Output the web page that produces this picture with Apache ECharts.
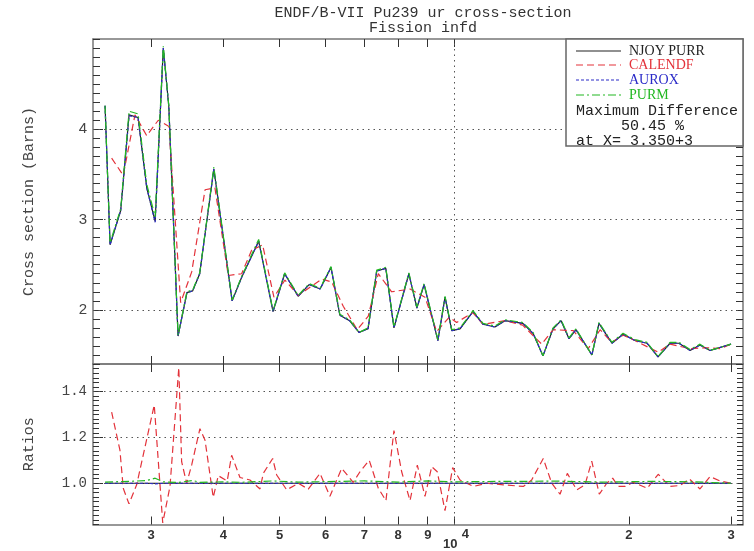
<!DOCTYPE html>
<html><head><meta charset="utf-8">
<script src="https://cdn.jsdelivr.net/npm/echarts@6/dist/echarts.min.js"></script>
<style>html,body{margin:0;padding:0;background:#fff}#c{width:754px;height:551px}</style>
</head><body><div id="c"></div>
<script>
// ---------- DATA ----------
const titleText = 'ENDF/B-VII Pu239 ur cross-section\nFission infd';
const xTickValues = [3000, 4000, 5000, 6000, 7000, 8000, 9000, 10000, 20000, 30000];
const xTickLabels = ['3', '4', '5', '6', '7', '8', '9', '10', '2', '3'];
const xTickSups   = ['', '', '', '', '', '', '', '4', '', ''];
const csTicks = [2, 3, 4];
const ratioTicks = [1.0, 1.2, 1.4];
const seriesNames = ['NJOY PURR', 'CALENDF', 'AUROX', 'PURM'];
const maxDiffLines = ['Maximum Difference', '     50.45 %', 'at X= 3.350+3'];

const njoyE = [2500, 2550, 2660, 2750, 2850, 2950, 3050, 3150, 3220, 3340, 3460, 3540, 3640, 3850, 4140, 4300, 4600, 4870, 5100, 5380,
  5620, 5870, 6130, 6350, 6600, 6850, 7100, 7350, 7620, 7870, 8350, 8620, 8870, 9370, 9640, 9900, 10230, 10770, 11210, 11750,
  12230, 13130, 13670, 14220, 14800, 15280, 15770, 16210, 17270, 17760, 18700, 19540, 20490, 21490, 22450, 23550, 24400, 25500, 26520, 27600, 30000];
const purmV = [4.26, 2.74, 3.12, 4.20, 4.17, 3.39, 3.03, 4.92, 4.26, 1.72, 2.20, 2.22, 2.41, 3.58, 2.11, 2.37, 2.78, 1.99, 2.41, 2.16,
  2.29, 2.24, 2.48, 1.95, 1.89, 1.75, 1.80, 2.44, 2.47, 1.81, 2.41, 2.03, 2.29, 1.67, 2.15, 1.78, 1.80, 1.99, 1.85, 1.82,
  1.89, 1.86, 1.75, 1.49, 1.80, 1.89, 1.69, 1.79, 1.50, 1.86, 1.64, 1.74, 1.67, 1.64, 1.48, 1.64, 1.64, 1.56, 1.62, 1.55, 1.62];
const njoyV = [4.26, 2.72, 3.10, 4.16, 4.13, 3.35, 2.98, 4.90, 4.25, 1.71, 2.19, 2.21, 2.40, 3.56, 2.10, 2.36, 2.76, 1.98, 2.40, 2.15,
  2.28, 2.23, 2.47, 1.94, 1.88, 1.75, 1.79, 2.43, 2.46, 1.80, 2.40, 2.02, 2.28, 1.66, 2.14, 1.77, 1.79, 1.98, 1.84, 1.81,
  1.88, 1.85, 1.74, 1.49, 1.79, 1.88, 1.68, 1.78, 1.50, 1.85, 1.63, 1.73, 1.66, 1.63, 1.48, 1.63, 1.63, 1.55, 1.61, 1.55, 1.62];
const auroxV = [4.26, 2.72, 3.10, 4.15, 4.13, 3.35, 2.97, 4.90, 4.25, 1.71, 2.19, 2.21, 2.40, 3.56, 2.10, 2.36, 2.76, 1.98, 2.40, 2.15,
  2.28, 2.23, 2.47, 1.94, 1.88, 1.75, 1.79, 2.43, 2.46, 1.80, 2.40, 2.02, 2.28, 1.66, 2.14, 1.77, 1.79, 1.98, 1.84, 1.81,
  1.88, 1.85, 1.74, 1.49, 1.79, 1.88, 1.68, 1.78, 1.50, 1.85, 1.63, 1.73, 1.66, 1.63, 1.48, 1.63, 1.63, 1.55, 1.61, 1.55, 1.62];

const calendfE = [2566, 2687, 2815, 2949, 3088, 3222, 3375, 3526, 3718, 3867, 4077, 4299, 4473, 4673, 4887, 5106, 5383, 5908, 6145, 6435,
  6803, 7108, 7396, 7798, 8389, 8902, 9326, 9804, 10096, 10760, 11220, 12230, 13120, 14150, 14810, 16040, 17020, 17840, 18680, 19560,
  20490, 22470, 23550, 25500, 27240, 28710, 30000];
const calendfV = [3.68, 3.49, 4.16, 3.93, 4.10, 4.03, 2.08, 2.42, 3.33, 3.35, 2.38, 2.40, 2.66, 2.72, 2.14, 2.33, 2.16, 2.34, 2.31, 2.04,
  1.78, 1.93, 2.40, 2.20, 2.23, 2.14, 1.76, 1.92, 1.86, 1.97, 1.84, 1.88, 1.83, 1.62, 1.78, 1.77, 1.57, 1.78, 1.64, 1.72,
  1.66, 1.53, 1.62, 1.57, 1.58, 1.57, 1.62];

const calRatioE = [2566, 2652, 2687, 2749, 2834, 3039, 3143, 3235, 3350, 3388, 3456, 3526, 3643, 3718, 3841, 3918, 4060, 4132, 4271, 4444,
  4624, 4685, 4863, 4941, 5141, 5383, 5601, 5868, 6104, 6395, 6696, 6877, 7135, 7396, 7624, 7870, 8115, 8389, 8635, 8902,
  9143, 9347, 9638, 9937, 10229, 10784, 11372, 12148, 13152, 13595, 14236, 14723, 15216, 15664, 16256, 16803, 17258, 17783, 18315, 18754,
  19177, 19695, 20355, 21511, 22470, 23550, 24498, 25420, 26521, 27600, 28710, 30000];
const calRatioV = [1.31, 1.144, 0.978, 0.91, 0.993, 1.341, 0.827, 0.986, 1.504, 1.094, 1.0, 1.08, 1.238, 1.187, 0.938, 1.033, 1.01, 1.122, 1.025, 1.014,
  0.975, 1.043, 1.108, 1.036, 0.971, 1.0, 0.974, 1.043, 0.943, 1.065, 1.004, 1.05, 1.10, 0.978, 0.924, 1.23, 1.05, 0.924, 1.079, 0.943,
  1.072, 1.05, 0.88, 1.068, 1.014, 0.986, 1.0, 0.993, 0.986, 1.014, 1.108, 1.0, 0.952, 1.043, 0.971, 0.993, 1.096, 0.952, 1.0, 1.022,
  0.986, 0.986, 1.004, 0.978, 1.039, 0.986, 0.99, 1.019, 0.975, 1.029, 1.01, 1.0];
const njoyRatioE = [2500, 30000];
const njoyRatioV = [1.0, 1.0];
const auroxRatioE = [2500, 2950, 3050, 3150, 30000];
const auroxRatioV = [1.0, 1.0, 0.997, 1.0, 1.0];
const purmRatioE = [2500, 2750, 2950, 3050, 3150, 3340, 3540, 3640, 4000, 4300, 4870, 5380, 6000, 7000, 8000, 9000, 10000, 12000, 15000, 18000, 22000, 26000, 30000];
const purmRatioV = [1.005, 1.008, 1.012, 1.022, 1.006, 1.003, 1.012, 1.004, 1.006, 1.004, 1.01, 1.005, 1.007, 1.01, 1.005, 1.01, 1.006, 1.008, 1.009, 1.005, 1.008, 1.006, 1.0];

// ---------- LAYOUT / STYLE ----------
const X_MIN = 2383, X_MAX = 31460;
const CS_MIN = 1.4, CS_MAX = 5.0, CS_MINOR = 0.1;
const R_MIN = 0.82, R_MAX = 1.52, R_MINOR = 0.02;
const MONO = "'Liberation Mono', 'DejaVu Sans Mono', monospace";
const SANS = "'Liberation Sans', Arial, sans-serif";
const FRAME = { show: true, lineStyle: { color: '#777', width: 1.5 } };
const TICK = '#333';
const COLORS = ['#222222', '#e3323a', '#2a2ac8', '#22b822'];
const DASHES = ['solid', [7, 4], [3, 2], [8, 3, 2, 3]];

function pairs(e, v) { return e.map((x, i) => [x, v[i]]); }
function minorValues(min, max, step) {
  const out = []; const n = Math.round((max - min) / step);
  for (let k = 0; k <= n; k++) out.push(+(min + k * step).toFixed(4));
  return out;
}

const lxMin = Math.log10(X_MIN), lxMax = Math.log10(X_MAX);
const lxTicks = xTickValues.map(v => Math.log10(v));

function xLabelFmt(v) {
  let i = 0, best = 1e9;
  lxTicks.forEach((t, k) => { const d = Math.abs(t - v); if (d < best) { best = d; i = k; } });
  if (xTickSups[i]) return '{e|' + xTickSups[i] + '}\n{b|' + xTickLabels[i] + '}';
  return '{n|' + xTickLabels[i] + '}';
}
const xLabelFont = { fontFamily: SANS, fontWeight: 'bold', fontSize: 13, color: '#333' };

function overlayX(grid, pos, labels) {
  return {
    type: 'value', gridIndex: grid, position: pos, min: lxMin, max: lxMax,
    axisLine: Object.assign({ onZero: false }, FRAME),
    axisTick: { show: true, inside: true, length: 8, customValues: lxTicks, lineStyle: { color: TICK, width: 1 } },
    axisLabel: labels ? {
      show: true, customValues: lxTicks, formatter: xLabelFmt, margin: 4,
      rich: {
        n: Object.assign({ lineHeight: 13 }, xLabelFont),
        e: Object.assign({ lineHeight: 12, padding: [0, 0, 0, 22] }, xLabelFont),
        b: Object.assign({ lineHeight: 8, padding: [0, 8, 0, 0] }, xLabelFont)
      }
    } : { show: false },
    splitLine: { show: false }
  };
}
function dataX(grid) {
  return { type: 'log', logBase: 10, gridIndex: grid, min: X_MIN, max: X_MAX, show: false, splitLine: { show: false } };
}
function minorY(grid, pos, min, max, step, len) {
  const vals = minorValues(min, max, step);
  return {
    type: 'value', gridIndex: grid, position: pos, min: min, max: max,
    axisLine: Object.assign({ onZero: false }, FRAME),
    axisTick: { show: true, inside: true, length: len, customValues: vals, lineStyle: { color: TICK, width: 1 } },
    axisLabel: { show: false },
    splitLine: { show: false }
  };
}
function majorY(grid, min, max, ticks, name, fmt, labelFont, labelSize) {
  return {
    type: 'value', gridIndex: grid, position: 'left', min: min, max: max,
    axisLine: { show: false, onZero: false },
    axisTick: { show: true, inside: true, length: 10, customValues: ticks, lineStyle: { color: TICK, width: 1 } },
    axisLabel: { show: true, customValues: ticks, formatter: fmt, margin: 6, fontFamily: labelFont, fontSize: labelSize, color: '#444' },
    splitLine: { show: false },
    name: name, nameLocation: 'middle', nameGap: 56, nameRotate: 90,
    nameTextStyle: { fontFamily: MONO, fontSize: 15, color: '#444' }
  };
}
function gridLines(vals) {
  return {
    silent: true, symbol: ['none', 'none'], z: 1, animation: false,
    label: { show: false },
    lineStyle: { color: '#555', width: 1, type: [1.5, 4] },
    emphasis: { disabled: true },
    data: vals.map(v => ({ yAxis: v })).concat([{ xAxis: 10000 }])
  };
}
function mkSeries(name, data, idx, xi, yi, ml) {
  const s = {
    name: name, type: 'line', xAxisIndex: xi, yAxisIndex: yi, data: data,
    symbol: 'none', showSymbol: false, animation: false, z: 2 + idx,
    lineStyle: { color: COLORS[idx], width: 1.2, type: DASHES[idx] },
    emphasis: { disabled: true }
  };
  if (ml) s.markLine = ml;
  return s;
}

const chart = echarts.init(document.getElementById('c'), null, { renderer: 'canvas' });

const LX = 576, LT = 629;
const legendGraphics = [
  { type: 'rect', shape: { x: 566, y: 39, width: 177, height: 107 }, style: { fill: '#fff', stroke: '#666', lineWidth: 1.5 }, z: 100 }
];
const legendY = [51, 65, 80, 95];
seriesNames.forEach((n, i) => {
  legendGraphics.push({ type: 'line', shape: { x1: LX, y1: legendY[i], x2: LX + 45, y2: legendY[i] },
    style: { stroke: COLORS[i], lineWidth: 1.2, lineDash: DASHES[i] === 'solid' ? null : DASHES[i] }, z: 101 });
  legendGraphics.push({ type: 'text', x: LT, y: legendY[i], z: 101,
    style: { text: n, fill: COLORS[i], font: "14px 'Liberation Serif', 'DejaVu Serif', serif", verticalAlign: 'middle' } });
});
const mdY = [111, 126, 141];
maxDiffLines.forEach((t, i) => {
  legendGraphics.push({ type: 'text', x: 576, y: mdY[i], z: 101,
    style: { text: t, fill: '#222', font: "15px " + MONO, verticalAlign: 'middle' } });
});

chart.setOption({
  animation: false,
  backgroundColor: '#fff',
  title: {
    text: titleText, left: 418, top: 1, textAlign: 'center',
    textStyle: { fontFamily: MONO, fontSize: 15, fontWeight: 'normal', color: '#333', lineHeight: 15 }
  },
  grid: [
    { left: 93, right: 11, top: 39, height: 325, containLabel: false },
    { left: 93, right: 11, top: 364, height: 164, containLabel: false }
  ],
  xAxis: [
    dataX(0), overlayX(0, 'bottom', false), overlayX(0, 'top', false),
    dataX(1), overlayX(1, 'top', false), overlayX(1, 'bottom', true)
  ],
  yAxis: [
    { type: 'value', gridIndex: 0, min: CS_MIN, max: CS_MAX, show: false },
    majorY(0, CS_MIN, CS_MAX, csTicks, 'Cross section (Barns)', v => String(Math.round(v)), SANS, 15),
    minorY(0, 'left', CS_MIN, CS_MAX, CS_MINOR, 7),
    minorY(0, 'right', CS_MIN, CS_MAX, CS_MINOR, 7),
    { type: 'value', gridIndex: 1, min: R_MIN, max: R_MAX, show: false },
    majorY(1, R_MIN, R_MAX, ratioTicks, 'Ratios', v => Number(v).toFixed(1), MONO, 14),
    minorY(1, 'left', R_MIN, R_MAX, R_MINOR, 6),
    minorY(1, 'right', R_MIN, R_MAX, R_MINOR, 6)
  ],
  series: [
    mkSeries('NJOY PURR', pairs(njoyE, njoyV), 0, 0, 0, gridLines(csTicks)),
    mkSeries('CALENDF', pairs(calendfE, calendfV), 1, 0, 0),
    mkSeries('AUROX', pairs(njoyE, auroxV), 2, 0, 0),
    mkSeries('PURM', pairs(njoyE, purmV), 3, 0, 0),
    mkSeries('NJOY PURR ratio', pairs(njoyRatioE, njoyRatioV), 0, 3, 4, gridLines(ratioTicks)),
    mkSeries('CALENDF ratio', pairs(calRatioE, calRatioV), 1, 3, 4),
    mkSeries('AUROX ratio', pairs(auroxRatioE, auroxRatioV), 2, 3, 4),
    mkSeries('PURM ratio', pairs(purmRatioE, purmRatioV), 3, 3, 4)
  ],
  graphic: legendGraphics
});
</script>
</body></html>
